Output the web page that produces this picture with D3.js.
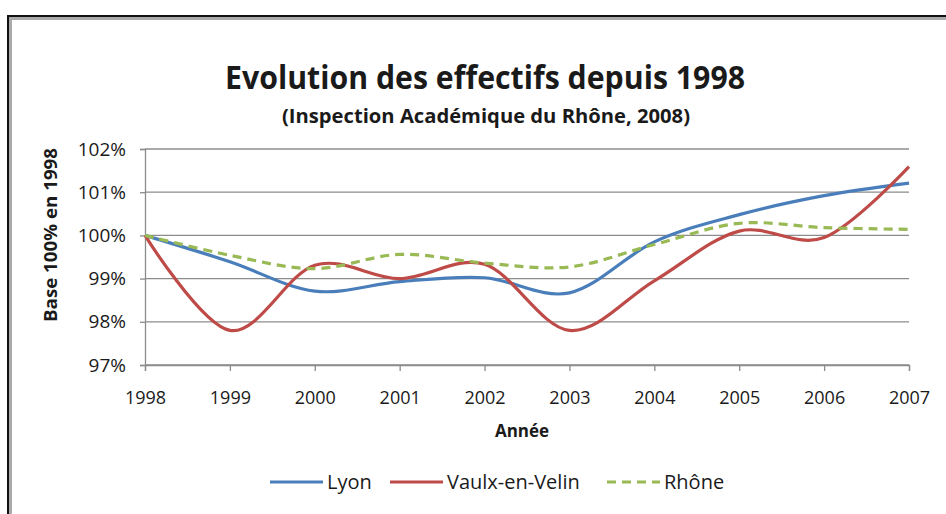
<html>
<script src='https://d3js.org/d3.v7.min.js'></script>
<style>
body {margin: 0; background: white;}
text {font-family: "Open Sans", sans-serif; fill: #1a1a1a;}
</style>
<body>
<svg width=946 height=514></svg>
<script>
// data (base 100 in 1998)
var years = [1998, 1999, 2000, 2001, 2002, 2003, 2004, 2005, 2006, 2007];
var lyon = [100, 99.39, 98.71, 98.93, 99.02, 98.67, 99.85, 100.48, 100.92, 101.21];
var vaulx = [100, 97.8, 99.31, 99.0, 99.33, 97.8, 98.95, 100.1, 99.95, 101.59];
var rhone = [100, 99.54, 99.23, 99.56, 99.36, 99.27, 99.79, 100.28, 100.18, 100.14];
var yTicks = [97, 98, 99, 100, 101, 102];
var seriesNames = ["Lyon", "Vaulx-en-Velin", "Rhône"];

var series = [
  {name: seriesNames[0], values: lyon, color: "#4a7ebb", dash: null},
  {name: seriesNames[1], values: vaulx, color: "#be4b48", dash: null},
  {name: seriesNames[2], values: rhone, color: "#98b954", dash: "9,6"}
];

var plotLeft = 145, plotRight = 909, plotTop = 149, plotBottom = 365;

var svg = d3.select("svg");

// chart frame
svg.append("rect").attr("x", 10.5).attr("y", 18.5).attr("width", 960).attr("height", 520)
   .attr("fill", "none").attr("stroke", "#aaa").attr("stroke-width", 3);
svg.append("rect").attr("x", 8).attr("y", 16).attr("width", 960).attr("height", 520)
   .attr("fill", "none").attr("stroke", "#111").attr("stroke-width", 2);

var x = d3.scaleLinear().domain([1998, 2007]).range([plotLeft, plotRight]);
var y = d3.scaleLinear().domain([97, 102]).range([plotBottom, plotTop]);

// gridlines
svg.append("g")
   .selectAll("line").data(yTicks).enter().append("line")
   .attr("x1", plotLeft).attr("x2", plotRight)
   .attr("y1", function(d) {return y(d);}).attr("y2", function(d) {return y(d);})
   .attr("stroke", "#8c8c8c").attr("stroke-width", 1.3);

// y axis
var yAxis = svg.append("g")
   .attr("transform", "translate(" + plotLeft + ",0)")
   .call(d3.axisLeft(y).tickValues(yTicks).tickSize(5).tickPadding(14)
          .tickFormat(function(d) {return d + "%";}));
yAxis.select(".domain").attr("stroke", "#8c8c8c").attr("stroke-width", 1.3);
yAxis.selectAll(".tick line").attr("stroke", "#8c8c8c").attr("stroke-width", 1.3);
yAxis.selectAll("text").style("font-size", "19px").style("font-family", "Open Sans").attr("fill", "#1a1a1a");

// x axis
var xAxis = svg.append("g")
   .attr("transform", "translate(0," + plotBottom + ")")
   .call(d3.axisBottom(x).tickValues(years).tickSize(6).tickPadding(20).tickFormat(d3.format("d")));
xAxis.select(".domain").attr("stroke", "#8c8c8c").attr("stroke-width", 1.3);
xAxis.selectAll(".tick line").attr("stroke", "#8c8c8c").attr("stroke-width", 1.3);
xAxis.selectAll("text").style("font-size", "18px").style("font-family", "Open Sans").attr("fill", "#1a1a1a");

// series lines, smoothed like the spreadsheet
var line = d3.line()
   .x(function(d, i) {return x(years[i]);})
   .y(function(d) {return y(d);})
   .curve(d3.curveCardinal.tension(0));

svg.append("g").selectAll("path").data(series).enter().append("path")
   .attr("d", function(s) {return line(s.values);})
   .attr("fill", "none")
   .attr("stroke", function(s) {return s.color;})
   .attr("stroke-width", 3.2)
   .attr("stroke-dasharray", function(s) {return s.dash;});

// titles
svg.append("text").attr("x", 485).attr("y", 89).attr("text-anchor", "middle")
   .style("font-size", "32px").style("font-weight", "bold")
   .attr("textLength", 520).attr("lengthAdjust", "spacingAndGlyphs")
   .text("Evolution des effectifs depuis 1998");
svg.append("text").attr("x", 486).attr("y", 123).attr("text-anchor", "middle")
   .style("font-size", "20px").style("font-weight", "bold")
   .attr("textLength", 408).attr("lengthAdjust", "spacingAndGlyphs")
   .text("(Inspection Académique du Rhône, 2008)");

svg.append("text").attr("transform", "translate(57,235) rotate(-90)")
   .attr("text-anchor", "middle")
   .style("font-size", "17px").style("font-weight", "bold")
   .attr("textLength", 174).attr("lengthAdjust", "spacingAndGlyphs")
   .text("Base 100% en 1998");

svg.append("text").attr("x", 522).attr("y", 437).attr("text-anchor", "middle")
   .style("font-size", "17px").style("font-weight", "bold")
   .text("Année");

// legend
var legendX = [270, 390, 607];
var legend = svg.append("g").selectAll("g").data(series).enter().append("g")
   .attr("transform", function(s, i) {return "translate(" + legendX[i] + ",482)";});
legend.append("line").attr("x1", 0).attr("x2", 53).attr("y1", 0).attr("y2", 0)
   .attr("stroke", function(s) {return s.color;}).attr("stroke-width", 3.2)
   .attr("stroke-dasharray", function(s) {return s.dash;});
legend.append("text").attr("x", 57).attr("y", 7)
   .style("font-size", "20px")
   .text(function(s) {return s.name;});
</script>
</body>
</html>
